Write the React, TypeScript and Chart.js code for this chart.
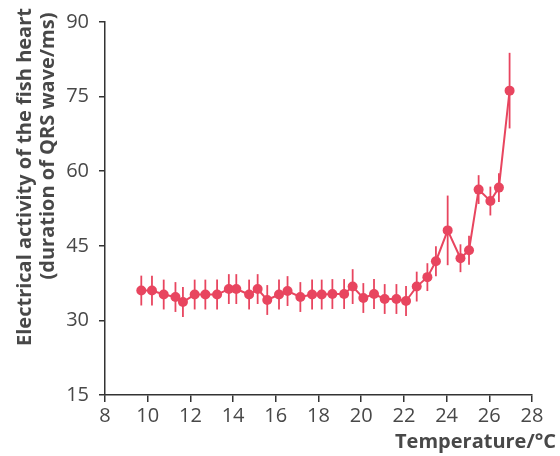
import React, { useEffect, useRef } from "react";
import { Chart, registerables } from "chart.js";

Chart.register(...registerables);

const temperatures = [9.7, 10.2, 10.75, 11.3, 11.65, 12.2, 12.7, 13.25, 13.8, 14.15, 14.75, 15.15, 15.6, 16.15, 16.55, 17.15, 17.7, 18.15, 18.65, 19.2, 19.6, 20.1, 20.6, 21.1, 21.65, 22.1, 22.6, 23.1, 23.5, 24.05, 24.65, 25.05, 25.5, 26.05, 26.45, 26.95];
const qrsDuration = [36.0, 36.0, 35.2, 34.7, 33.7, 35.2, 35.2, 35.2, 36.3, 36.3, 35.2, 36.3, 34.1, 35.2, 35.9, 34.7, 35.2, 35.2, 35.3, 35.3, 36.8, 34.5, 35.3, 34.3, 34.3, 33.9, 36.8, 38.7, 41.9, 48.1, 42.5, 44.1, 56.3, 54.0, 56.7, 76.2];
const qrsError = [3, 3, 3, 3, 3, 3, 3, 3, 3, 3, 3, 3, 3, 3, 3, 3, 3, 3, 3, 3, 3.5, 3, 3, 3, 3, 3, 3, 2.8, 3, 7, 2.8, 2.9, 2.9, 2.9, 2.9, 7.6];

const yTitleLines = ["Electrical activity of the fish heart", "(duration of QRS wave/ms)"];
const xTitle = "Temperature/°C";

const PINK = "#e8455f";
const AXIS = "#333333";
const TEXT = "#484848";

const errorBarPlugin = {
  id: "errorBars",
  beforeDatasetsDraw(chart: any) {
    const { ctx, scales } = chart;
    const xs = scales.x;
    const ys = scales.y;
    ctx.save();
    ctx.strokeStyle = PINK;
    ctx.lineWidth = 1.8;
    for (let i = 0; i < temperatures.length; i++) {
      const px = xs.getPixelForValue(temperatures[i]);
      const top = ys.getPixelForValue(qrsDuration[i] + qrsError[i]);
      const bot = ys.getPixelForValue(qrsDuration[i] - qrsError[i]);
      ctx.beginPath();
      ctx.moveTo(px, top);
      ctx.lineTo(px, bot);
      ctx.stroke();
    }
    ctx.restore();
  },
};

const titlesPlugin = {
  id: "titles",
  afterDraw(chart: any) {
    const { ctx } = chart;
    ctx.save();
    ctx.fillStyle = TEXT;
    ctx.font = "bold 20px 'Open Sans'";
    ctx.textBaseline = "middle";
    ctx.textAlign = "center";
    const centers = [
      { x: 25, y: 177 },
      { x: 48, y: 146 },
    ];
    yTitleLines.forEach((line, i) => {
      ctx.save();
      ctx.translate(centers[i].x, centers[i].y);
      ctx.rotate(-Math.PI / 2);
      ctx.fillText(line, 0, 0);
      ctx.restore();
    });
    ctx.font = "bold 20px 'Open Sans'";
    ctx.textAlign = "right";
    ctx.fillText(xTitle, 556, 442);
    ctx.restore();
  },
};

export default function App() {
  const ref = useRef<HTMLCanvasElement>(null);
  useEffect(() => {
    if (!ref.current) return;
    const chart = new Chart(ref.current, {
      type: "line",
      data: {
        datasets: [
          {
            data: temperatures.map((t, i) => ({ x: t, y: qrsDuration[i] })),
            borderColor: PINK,
            backgroundColor: PINK,
            borderWidth: 2,
            pointRadius: 5,
            pointBackgroundColor: PINK,
            pointBorderWidth: 0,
            tension: 0,
          },
        ],
      },
      options: {
        animation: false,
        responsive: false,
        layout: { padding: { left: 0, right: 28, top: 20, bottom: 0 } },
        plugins: { legend: { display: false }, tooltip: { enabled: false } },
        scales: {
          x: {
            type: "linear",
            min: 8,
            max: 28,
            afterFit: (s: any) => {
              s.height = 61;
            },
            ticks: { stepSize: 2, color: TEXT, font: { family: "'Open Sans'", size: 20 }, padding: 2 },
            grid: { drawOnChartArea: false, drawTicks: true, tickLength: 7, color: AXIS, lineWidth: 1.5 },
            border: { display: true, color: AXIS, width: 1.5 },
          },
          y: {
            type: "linear",
            min: 15,
            max: 90,
            afterFit: (s: any) => {
              s.width = 105;
            },
            ticks: { stepSize: 15, color: TEXT, font: { family: "'Open Sans'", size: 20 }, padding: 10 },
            grid: { drawOnChartArea: false, drawTicks: true, tickLength: 6, color: AXIS, lineWidth: 1.5 },
            border: { display: true, color: AXIS, width: 1.5 },
          },
        },
      },
      plugins: [errorBarPlugin, titlesPlugin],
    });
    return () => chart.destroy();
  }, []);
  return (
    <div style={{ position: "absolute", left: 0, top: 0, width: 560, height: 456, background: "#fff" }}>
      <canvas ref={ref} width={560} height={456} style={{ display: "block" }} />
    </div>
  );
}
